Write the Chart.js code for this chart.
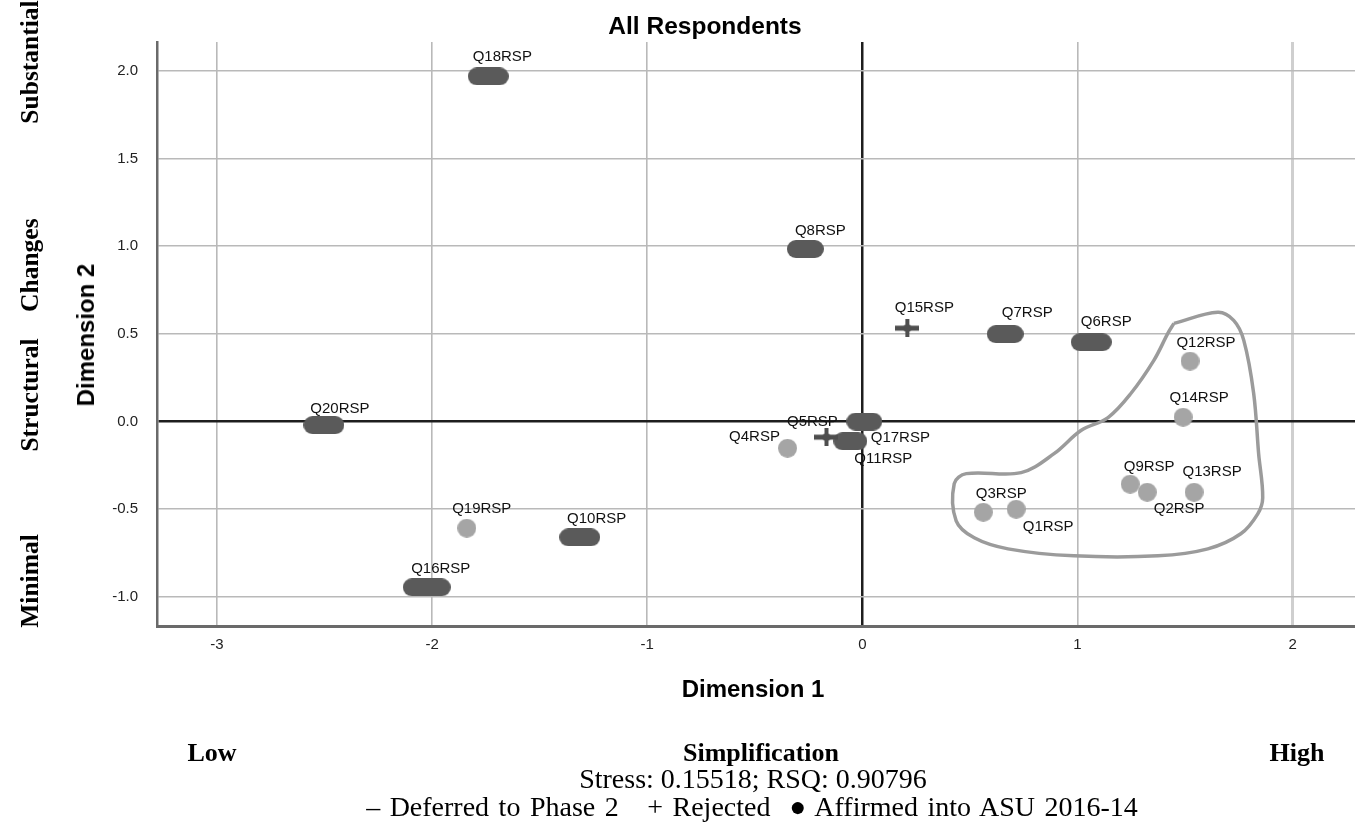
<!DOCTYPE html>
<html>
<head>
<meta charset="utf-8">
<script src="https://cdn.jsdelivr.net/npm/chart.js@4.4.1/dist/chart.umd.min.js"></script>
<style>
  html, body { margin: 0; padding: 0; background: #fff; }
  #wrap { position: relative; width: 1355px; height: 829px; overflow: hidden; }
  #wrap canvas { position: absolute; left: 0; top: 0; }
  .t { position: absolute; white-space: nowrap; color: #000; transform: translate(-50%, -50%); }
  .rot { transform: translate(-50%, -50%) rotate(-90deg); }
  .serifB { font-family: "Liberation Serif", "Times New Roman", serif; font-weight: bold; font-size: 26px; }
  .serifR { font-family: "Liberation Serif", "Times New Roman", serif; font-weight: bold; font-size: 25.5px; }
  .serif { font-family: "Liberation Serif", "Times New Roman", serif; font-size: 28px; }
  .sansB { font-family: "Liberation Sans", Arial, sans-serif; font-weight: bold; }
</style>
</head>
<body>
<div id="wrap">
  <canvas id="c" width="1355" height="829"></canvas>
  <div class="t sansB" style="left:705px; top:26px; font-size:24.5px;">All Respondents</div>
  <div class="t sansB rot" style="left:86px; top:335px; font-size:24px;">Dimension 2</div>
  <div class="t sansB" style="left:753px; top:689px; font-size:24px;">Dimension 1</div>
  <div class="t serifR rot" style="left:30px; top:62px;">Substantial</div>
  <div class="t serifR rot" style="left:30px; top:335px; word-spacing:20px;">Structural Changes</div>
  <div class="t serifR rot" style="left:30px; top:581px;">Minimal</div>
  <div class="t serifB" style="left:212px; top:753px;">Low</div>
  <div class="t serifB" style="left:761px; top:753px;">Simplification</div>
  <div class="t serifB" style="left:1297px; top:753px;">High</div>
  <div class="t serif" style="left:753px; top:779px;">Stress: 0.15518; RSQ: 0.90796</div>
  <div class="t serif" style="left:752px; top:807px; white-space:pre; word-spacing:2.5px;">– Deferred to Phase 2   + Rejected  ● Affirmed into ASU 2016-14</div>
</div>
<script>
// ---------- data ----------
const deferredLabels = ["Q18RSP", "Q8RSP", "Q7RSP", "Q6RSP", "Q20RSP", "Q17RSP", "Q11RSP", "Q10RSP", "Q16RSP"];
const deferredX = [-1.739, -0.265, 0.664, 1.064, -2.503, 0.009, -0.056, -1.314, -2.025];
const deferredY = [1.969, 0.984, 0.499, 0.453, -0.020, 0.000, -0.112, -0.660, -0.945];

const rejectedLabels = ["Q15RSP", "Q5RSP"];
const rejectedX = [0.209, -0.167];
const rejectedY = [0.533, -0.089];

const affirmedLabels = ["Q12RSP", "Q14RSP", "Q9RSP", "Q2RSP", "Q13RSP", "Q3RSP", "Q1RSP", "Q4RSP", "Q19RSP"];
const affirmedX = [1.523, 1.491, 1.245, 1.324, 1.542, 0.562, 0.715, -0.348, -1.839];
const affirmedY = [0.345, 0.025, -0.357, -0.403, -0.403, -0.517, -0.500, -0.152, -0.608];

// hand-drawn cluster outline (data space)
const outlineX = [1.448, 1.652, 1.726, 1.773, 1.819, 1.842, 1.861, 1.838, 1.759, 1.606, 1.374, 0.984, 0.677, 0.520, 0.436, 0.427, 0.483, 0.738, 0.891, 1.016, 1.142, 1.248, 1.355, 1.420, 1.448];
const outlineY = [0.560, 0.623, 0.577, 0.463, 0.160, -0.183, -0.434, -0.526, -0.640, -0.726, -0.766, -0.766, -0.726, -0.663, -0.566, -0.354, -0.297, -0.291, -0.183, -0.051, 0.023, 0.160, 0.349, 0.503, 0.560];

const xTicks = [-3, -2, -1, 0, 1, 2];
const yTicks = [-1.0, -0.5, 0.0, 0.5, 1.0, 1.5, 2.0];

// ---------- styles ----------
const pillWidths = { "Q16RSP": 48, "Q7RSP": 37, "Q8RSP": 37, "Q17RSP": 36, "Q11RSP": 34 };
const labelOffsets = {
  "Q18RSP": [14, -20], "Q8RSP": [15, -18], "Q20RSP": [16, -16], "Q16RSP": [14, -18],
  "Q10RSP": [17, -18], "Q19RSP": [15, -19], "Q15RSP": [17, -20], "Q7RSP": [22, -21],
  "Q6RSP": [15, -20], "Q12RSP": [16, -18], "Q14RSP": [16, -19], "Q9RSP": [19, -17],
  "Q13RSP": [18, -20], "Q2RSP": [32, 17], "Q3RSP": [18, -18], "Q1RSP": [32, 18],
  "Q17RSP": [36, 16], "Q11RSP": [33, 18], "Q5RSP": [-14, -15], "Q4RSP": [-33, -11]
};

const shapeCache = {};
function pill(w, h, color) {
  const key = 'p' + w + 'x' + h + color;
  if (shapeCache[key]) return shapeCache[key];
  const cv = document.createElement('canvas');
  cv.width = w; cv.height = h;
  const g = cv.getContext('2d');
  const r = h / 2;
  g.fillStyle = color;
  g.beginPath();
  g.moveTo(r, 0);
  g.lineTo(w - r, 0);
  g.arc(w - r, r, r, -Math.PI / 2, Math.PI / 2);
  g.lineTo(r, h);
  g.arc(r, r, r, Math.PI / 2, Math.PI * 1.5);
  g.closePath();
  g.fill();
  shapeCache[key] = cv;
  return cv;
}
function cross(w, h, t, color) {
  const key = 'c' + w + 'x' + h + color;
  if (shapeCache[key]) return shapeCache[key];
  const cv = document.createElement('canvas');
  cv.width = w; cv.height = h;
  const g = cv.getContext('2d');
  g.fillStyle = color;
  g.fillRect(0, (h - t) / 2, w, t);
  g.fillRect((w - t + 1) / 2, 0, t - 1, h);
  g.beginPath();
  g.arc(w / 2, h / 2, t * 0.8, 0, Math.PI * 2);
  g.fill();
  shapeCache[key] = cv;
  return cv;
}
function dot(d, color) {
  const key = 'd' + d + color;
  if (shapeCache[key]) return shapeCache[key];
  const cv = document.createElement('canvas');
  cv.width = d; cv.height = d;
  const g = cv.getContext('2d');
  g.fillStyle = color;
  g.beginPath();
  g.arc(d / 2, d / 2, d / 2, 0, Math.PI * 2);
  g.fill();
  shapeCache[key] = cv;
  return cv;
}

const toPoints = (labels, xs, ys) => labels.map((l, i) => ({ x: xs[i], y: ys[i], label: l }));

const labelPlugin = {
  id: 'pointLabels',
  afterDatasetsDraw(chart) {
    const ctx = chart.ctx;
    ctx.save();
    ctx.font = '15px "Liberation Sans", Arial, sans-serif';
    ctx.fillStyle = '#111';
    ctx.textAlign = 'center';
    ctx.textBaseline = 'middle';
    chart.data.datasets.forEach((ds, di) => {
      if (!ds.labelled) return;
      const meta = chart.getDatasetMeta(di);
      meta.data.forEach((el, i) => {
        const txt = ds.data[i].label;
        const off = labelOffsets[txt] || [15, -18];
        ctx.fillText(txt, el.x + off[0], el.y + off[1]);
      });
    });
    ctx.restore();
  }
};

function gridColor(c) {
  if (!c.tick) return '#bbb';
  if (c.tick.value === 0) return '#1e1e1e';
  return '#b9b9b9';
}
function gridWidth(c) {
  if (!c.tick) return 1.5;
  if (c.tick.value === 0) return 2.5;
  return 1.6;
}

new Chart(document.getElementById('c'), {
  type: 'scatter',
  data: {
    datasets: [
      {
        label: 'Deferred to Phase 2',
        labelled: true,
        data: toPoints(deferredLabels, deferredX, deferredY),
        pointStyle: (c) => pill((c.raw && pillWidths[c.raw.label]) || 41, 18, '#5a5a5a'),
        pointRadius: 10,
        order: 1
      },
      {
        label: 'Rejected',
        labelled: true,
        data: toPoints(rejectedLabels, rejectedX, rejectedY),
        pointStyle: () => cross(24, 18, 5, '#4e4e4e'),
        pointRadius: 10,
        order: 0
      },
      {
        label: 'Affirmed into ASU 2016-14',
        labelled: true,
        data: toPoints(affirmedLabels, affirmedX, affirmedY),
        pointStyle: () => dot(19, '#a5a5a5'),
        pointRadius: 10,
        order: 2
      },
      {
        label: 'cluster',
        data: outlineX.map((x, i) => ({ x: x, y: outlineY[i] })),
        showLine: true,
        borderColor: '#9b9b9b',
        borderWidth: 3.5,
        tension: 0.35,
        pointRadius: 0,
        fill: false,
        order: 3
      }
    ]
  },
  plugins: [labelPlugin],
  options: {
    responsive: false,
    animation: false,
    events: [],
    layout: { autoPadding: false, padding: { left: 0, right: 0, top: 42, bottom: 0 } },
    plugins: {
      legend: { display: false },
      title: { display: false },
      tooltip: { enabled: false }
    },
    scales: {
      x: {
        type: 'linear',
        min: -3.279,
        max: 2.29,
        afterFit: (s) => { s.height = 203; s.paddingLeft = 0; s.paddingRight = 0; },
        afterBuildTicks: (s) => { s.ticks = xTicks.map(v => ({ value: v })); },
        ticks: {
          includeBounds: false,
          padding: 10,
          color: '#222',
          font: { family: '"Liberation Sans", Arial, sans-serif', size: 15 },
          callback: (v) => String(v)
        },
        grid: {
          color: (c) => (c.tick && c.tick.value === 2) ? '#cfcfcf' : gridColor(c),
          lineWidth: (c) => (c.tick && c.tick.value === 2) ? 3 : gridWidth(c),
          drawTicks: false
        },
        border: { color: '#6a6a6a', width: 3 }
      },
      y: {
        type: 'linear',
        min: -1.166,
        max: 2.165,
        afterFit: (s) => { s.width = 157; s.paddingTop = 0; s.paddingBottom = 0; },
        afterBuildTicks: (s) => { s.ticks = yTicks.map(v => ({ value: v })); },
        ticks: {
          includeBounds: false,
          padding: 19,
          color: '#222',
          font: { family: '"Liberation Sans", Arial, sans-serif', size: 15 },
          callback: (v) => Number(v).toFixed(1)
        },
        grid: {
          color: gridColor,
          lineWidth: gridWidth,
          drawTicks: false
        },
        border: { color: '#6a6a6a', width: 2.5 }
      }
    }
  }
});
</script>
</body>
</html>
